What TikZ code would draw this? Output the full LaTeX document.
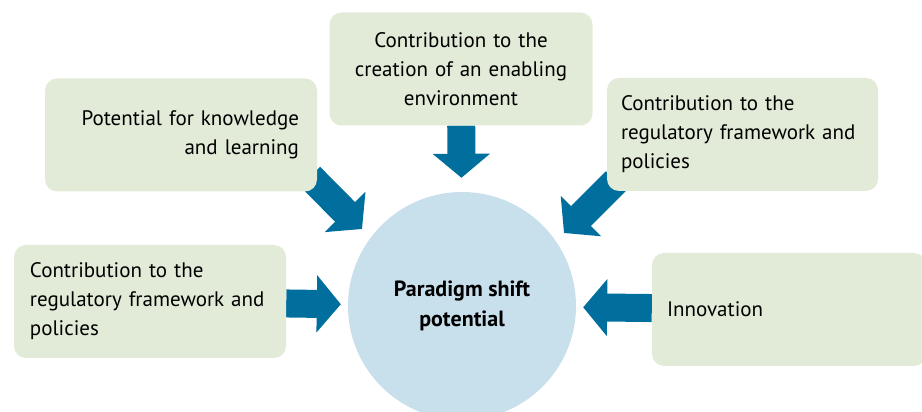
\documentclass[tikz,border=0pt]{standalone}
\usepackage{fontspec}
\setmainfont{PT Sans}
\usetikzlibrary{arrows.meta,backgrounds}
\definecolor{boxgreen}{RGB}{226,235,215}
\definecolor{hubblue}{RGB}{200,223,236}
\definecolor{arrowblue}{RGB}{0,111,158}
\tikzset{
	infobox/.style={
			rectangle, rounded corners=12pt, fill=boxgreen,
			minimum height=113pt, inner ysep=0pt,
			font=\fontsize{21}{29}\selectfont
		},
	bigarrow/.style={
			draw=arrowblue, line width=28pt,
			-{Triangle[length=24pt,width=56pt]}
		}
}

\begin{document}
\begin{tikzpicture}[x=1pt,y=1pt]
		\useasboundingbox (0,0) rectangle (922,412);

		% The central circle
		\node[circle, fill=hubblue, minimum size=228pt, inner sep=0pt, align=center,
			font=\bfseries\fontsize{22}{30}\selectfont] (hub) at (462,106) {Paradigm shift\\potential};

		% The five boxes round it
		\node[infobox, text width=243pt, inner xsep=10pt, align=center] (creation) at (461,343)
			{Contribution to the\\creation of an enabling\\environment};
		\node[infobox, text width=236pt, inner xsep=18pt, align=right] (knowledge) at (181,277)
			{Potential for knowledge\\and learning};
		\node[infobox, text width=243pt, inner xsep=14pt, align=left] (policiesright) at (742.5,277.5)
			{Contribution to the\\regulatory framework and\\policies};
		\node[infobox, text width=240pt, inner xsep=16pt, align=left] (policiesleft) at (150,110.5)
			{Contribution to the\\regulatory framework and\\policies};
		\node[infobox, text width=244pt, inner xsep=15pt, align=left] (innovation) at (789,102.5)
			{Innovation};

		% Draw the arrows behind the boxes
		\begin{scope}[on background layer]
			\foreach \b/\s in {creation/14pt, policiesleft/7pt, innovation/7pt} {
					\draw[bigarrow, shorten >=\s] (\b) -- (hub);
				}
			\coordinate (knowtip) at (362,183);
			\coordinate (policytip) at (564,179);
			\draw[bigarrow] ([shift={(-7pt,15pt)}]knowledge.south east) -- (knowtip);
			\draw[bigarrow] ([shift={(9pt,10pt)}]policiesright.south west) -- (policytip);
		\end{scope}
	\end{tikzpicture}
\end{document}
